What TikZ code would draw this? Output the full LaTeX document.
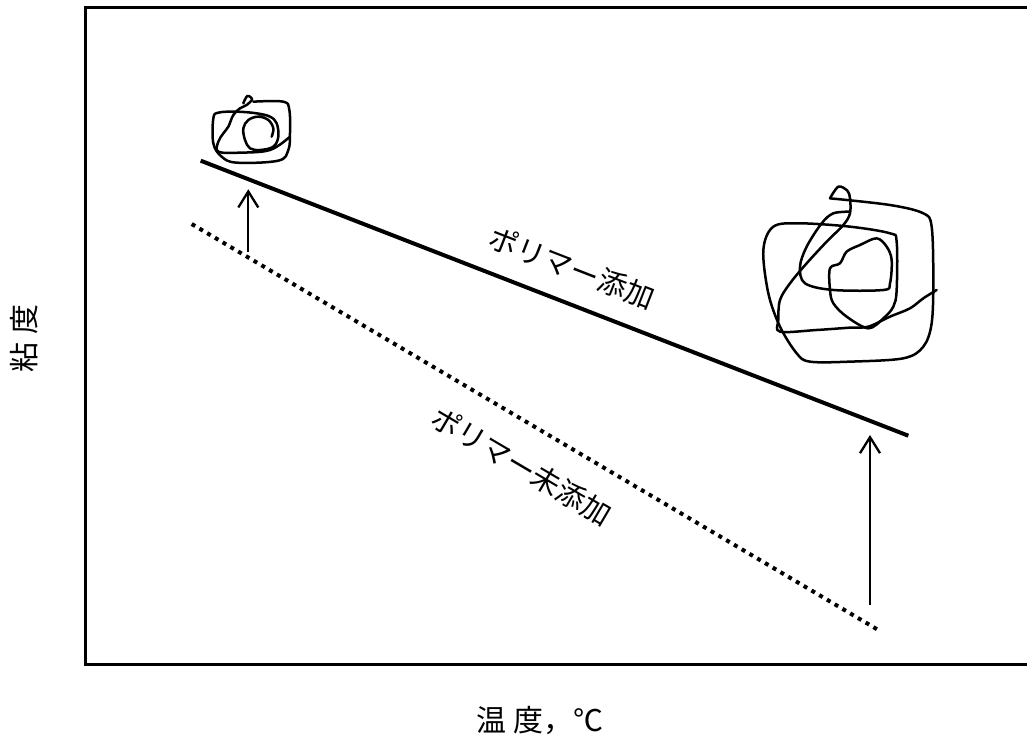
\documentclass[tikz,border=0pt]{standalone}
\usepackage{fontspec}
\newfontfamily\jpfont{Noto Sans CJK JP}
\usetikzlibrary{arrows.meta}
\begin{document}
\begin{tikzpicture}[x=1pt,y=-1pt,
  frameline/.style={line width=3pt},
  curve/.style={line width=4pt},
  dotline/.style={line width=4pt, dash pattern=on 4pt off 5pt},
  riser/.style={line width=2.3pt, -{Straight Barb[length=16pt,width=20pt]}},
  coil/.style={line width=2.5pt, line join=round, line cap=round},
  lbl/.style={font=\jpfont\fontsize{29}{29}\selectfont, inner sep=0pt},
  axislbl/.style={font=\jpfont\fontsize{30}{30}\selectfont, inner sep=0pt}]
\useasboundingbox (0,0) rectangle (1027,749);

% plot frame (open on the right)
\draw[frameline] (1040,8) -- (85,8) -- (85,664) -- (1040,664);

% viscosity lines
\coordinate (w0) at (200.7,160.7);
\coordinate (w1) at (908.3,435.7);
\coordinate (n0) at (191.7,224);
\coordinate (n1) at (878.3,630);
\draw[curve] (w0) -- (w1);
\draw[dotline] (n0) -- (n1);

% rise arrows
\coordinate (a0) at (248.3,251.7);
\coordinate (a1) at (248.3,189.3);
\coordinate (b0) at (870,605);
\coordinate (b1) at (870,435);
\draw[riser] (a0) -- (a1);
\draw[riser] (b0) -- (b1);

% labels
\node[lbl, rotate=-21.25] (lblA) at (572,268) {ポリマー添加};
\node[lbl, rotate=-30.5] (lblB) at (522,466) {ポリマー未添加};
\node[axislbl] (xlab) at (540,720) {温\hspace{8pt}度，℃};
\node[axislbl, rotate=90] (ylab) at (24,338) {粘\hspace{8pt}度};

% small polymer coil
\begin{scope}[shift={(190,90)}, scale=0.3333]
\draw[coil] plot[smooth, tension=0.6] coordinates {
  (160,40) (172,18) (186,28) (170,45) (150,55) (130,75) (115,110) (100,130)
  (85,155) (85,185) (150,188) (240,180) (300,140)};
\draw[coil] plot[smooth, tension=0.6] coordinates {
  (190,35) (280,35) (298,60) (300,130) (295,180) (265,212) (140,218) (95,200)
  (70,160) (70,85) (85,68) (140,65) (200,70) (240,80) (260,100) (265,140)
  (250,170) (210,180) (180,175) (165,150) (160,115) (175,90) (205,80)
  (235,90) (250,115) (245,140)};
\end{scope}

% large polymer coil
\begin{scope}[shift={(750,180)}, scale=0.3333]
\draw[coil] plot[smooth, tension=0.55] coordinates {
  (240,55) (265,20) (292,32) (300,55) (300,100) (280,135) (230,185) (170,250)
  (120,310) (90,360) (85,420) (90,455) (200,450) (300,443) (355,440)
  (420,410) (480,385) (520,355) (560,330)};
\draw[coil] plot[smooth, tension=0.55] coordinates {
  (240,55) (420,75) (520,100) (545,140) (550,300) (545,430) (520,500)
  (460,535) (300,545) (180,545) (140,520) (90,440) (55,340) (40,210)
  (70,140) (150,130) (300,140) (420,160) (440,185) (440,330) (430,380)
  (400,415) (355,445) (290,410) (250,370) (240,330) (240,265) (270,250)
  (290,215) (330,195) (380,175) (410,200) (425,240) (420,310) (400,330)
  (250,330) (165,310) (150,260) (170,200) (215,130) (250,100) (300,95)};
\end{scope}
\end{tikzpicture}
\end{document}
